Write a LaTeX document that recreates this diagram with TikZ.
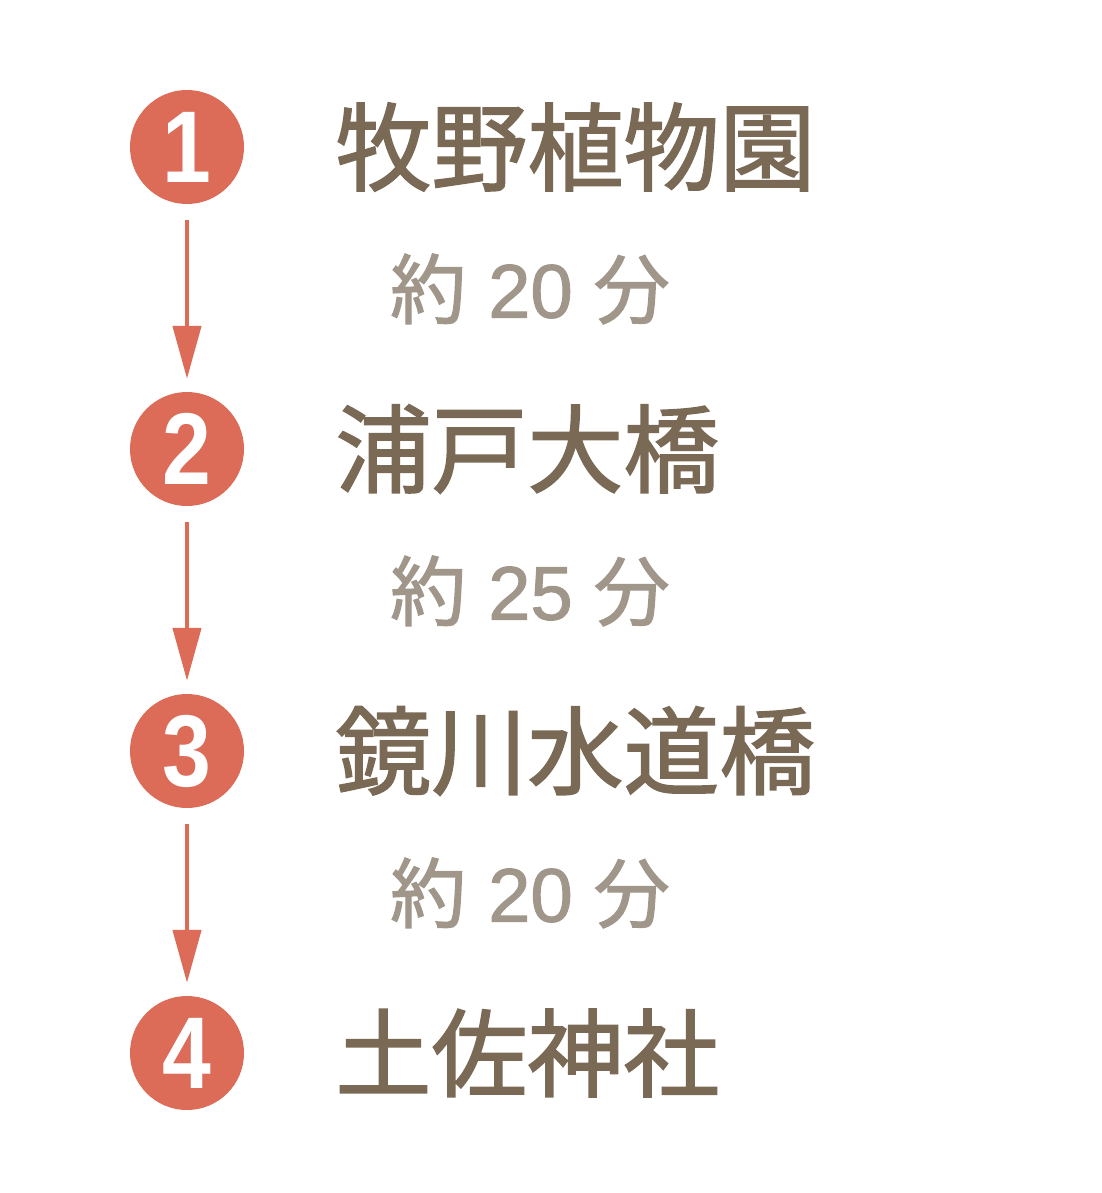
\documentclass[tikz,border=0pt]{standalone}
\usepackage{fontspec}
\usepackage{graphicx}
\usepackage{tikz}
\usepackage{xcolor}
\usetikzlibrary{calc}
\usetikzlibrary{positioning, arrows.meta}

\newfontfamily\cjk[FakeBold=1.6]{Noto Sans CJK JP}
\newfontfamily\numfont{Liberation Sans}
\newfontfamily\timenum[FakeBold=1.4]{Liberation Sans}
\newcommand{\stepnum}[1]{\scalebox{0.86}[1]{#1}}
\newcommand{\mins}[1]{約\hspace{22pt}{\timenum #1}\hspace{21pt}分}

\definecolor{stepred}{HTML}{DC6B58}
\definecolor{spotbrown}{HTML}{7A6A55}
\definecolor{timegray}{HTML}{A0978A}

\begin{document}
\begin{tikzpicture}[node distance={302pt},
    num/.style = {circle, fill=stepred, minimum size=114pt, inner sep=0pt, text=white, font=\numfont\bfseries\fontsize{102}{102}\selectfont},
    spot/.style = {inner sep=0pt, anchor=west, text=spotbrown, font=\cjk\fontsize{96}{96}\selectfont},
    time/.style = {inner sep=0pt, anchor=west, text=timegray, font=\cjk\fontsize{76}{76}\selectfont},
    walk/.style = {draw=stepred, line width=4.5pt, -{Triangle[length=53pt, width=28pt]}, shorten <=16pt, shorten >=13pt}]
                        \useasboundingbox (0,0) rectangle (1102pt,-1193pt);
                        \node[num] (c1) at (187pt,-147pt) {\stepnum{1}};
                        \node[num] (c2) [below of=c1] {\stepnum{2}};
                        \node[num] (c3) [below of=c2] {\stepnum{3}};
                        \node[num] (c4) [below of=c3] {\stepnum{4}};
                        \node[spot, right=91pt of c1] (s1) {牧野植物園};
                        \node[spot, right=91pt of c2] (s2) {浦戸大橋};
                        \node[spot, right=91pt of c3] (s3) {鏡川水道橋};
                        \node[spot, right=91pt of c4] (s4) {土佐神社};
                        \node[time] (t1) at ($(c1)!0.47!(c2)+(203pt,0)$) {\mins{20}};
                        \node[time] (t2) at ($(c2)!0.47!(c3)+(203pt,0)$) {\mins{25}};
                        \node[time] (t3) at ($(c3)!0.47!(c4)+(203pt,0)$) {\mins{20}};
                        \draw[walk] (c1) -- (c2);
                        \draw[walk] (c2) -- (c3);
                        \draw[walk] (c3) -- (c4);
                    \end{tikzpicture}
\end{document}
